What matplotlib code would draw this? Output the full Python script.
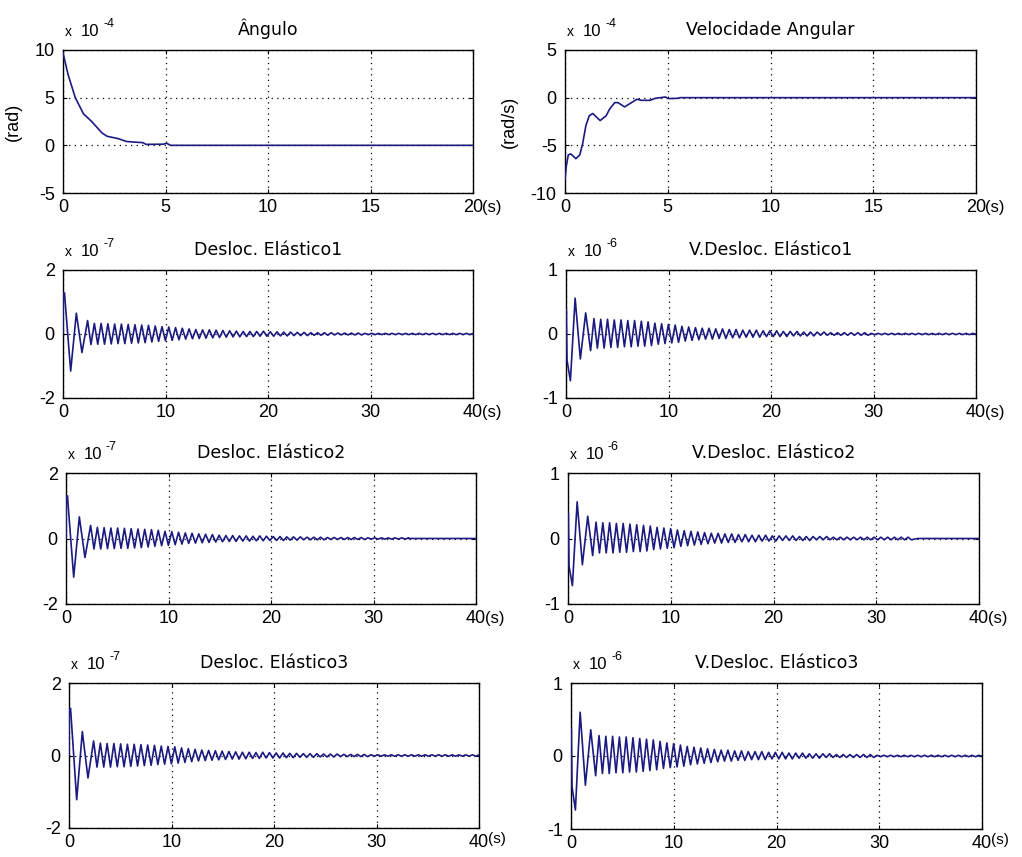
import matplotlib
matplotlib.use("Agg")
import matplotlib.pyplot as plt

# ---------------------------------------------------------------- data
# Rigid-body response (values in units of 1e-4)
angulo_t = [0.0, 0.25, 0.6, 1.0, 1.4, 1.9, 2.15, 2.7, 3.1, 3.9, 4.05, 4.9, 5.05, 5.25, 20.0]
angulo_v = [9.7, 7.4, 5.0, 3.3, 2.5, 1.3, 0.95, 0.7, 0.4, 0.28, 0.1, 0.12, 0.22, 0.0, 0.0]

vel_ang_t = [0.0, 0.07, 0.16, 0.28, 0.53, 0.72, 0.86, 1.02, 1.18, 1.35, 1.71, 2.0, 2.17,
             2.42, 2.58, 2.9, 3.16, 3.49, 3.73, 4.14, 4.39, 4.64, 4.88, 5.05, 5.46, 5.6, 20.0]
vel_ang_v = [-8.5, -7.1, -6.0, -5.9, -6.4, -6.0, -4.8, -2.9, -1.9, -1.66, -2.4, -1.9, -1.2,
             -0.52, -0.52, -0.97, -0.62, -0.17, -0.28, -0.28, -0.07, 0.0, 0.07, -0.1, -0.07, 0.0, 0.0]

# Elastic displacements (units of 1e-7): initial transient, then alternating extremes
half_period = 0.33

desloc_head_t = [0.0, 0.03, 0.15, 0.2, 0.75, 1.3, 1.85, 2.4]
desloc1_head_v = [0.0, 1.28, 1.28, 1.05, -1.16, 0.65, -0.58, 0.42]
desloc1_troughs = ([-0.33, -0.32, -0.32, -0.31, -0.30, -0.30, -0.29, -0.28, -0.27,
                    -0.25, -0.23, -0.21,
                    -0.20, -0.18, -0.16, -0.15,
                    -0.14, -0.13, -0.12, -0.11,
                    -0.10, -0.09, -0.09, -0.08, -0.08, -0.07, -0.07,
                    -0.07, -0.06, -0.06, -0.05, -0.05, -0.05, -0.04,
                    -0.04, -0.04, -0.03, -0.03, -0.03, -0.03, -0.03]
                   + [-0.02] * 16)
desloc1_peaks = ([0.33, 0.33, 0.32, 0.31, 0.31, 0.30, 0.29, 0.28, 0.27,
                  0.25, 0.23, 0.22,
                  0.20, 0.18, 0.16, 0.14,
                  0.13, 0.13, 0.12, 0.11,
                  0.10, 0.09, 0.08, 0.08, 0.08, 0.09, 0.07,
                  0.07, 0.06, 0.06, 0.05, 0.05, 0.04, 0.04,
                  0.04, 0.04, 0.03, 0.03, 0.03, 0.03, 0.02]
                 + [0.02] * 16)

desloc2_head_v = [0.0, 1.30, 1.30, 1.05, -1.18, 0.66, -0.58, 0.40]
desloc2_troughs = ([-0.32, -0.32, -0.31, -0.31, -0.30, -0.30, -0.29, -0.28, -0.26,
                    -0.24, -0.22, -0.21,
                    -0.19, -0.17, -0.15, -0.14,
                    -0.13, -0.12, -0.11, -0.10,
                    -0.09, -0.09, -0.08, -0.08, -0.07, -0.07, -0.06,
                    -0.06, -0.06, -0.05, -0.05, -0.04, -0.04, -0.04,
                    -0.04, -0.03, -0.03, -0.03, -0.03, -0.03, -0.03]
                   + [-0.02] * 6)
desloc2_peaks = ([0.34, 0.33, 0.32, 0.32, 0.31, 0.30, 0.29, 0.28, 0.27,
                  0.25, 0.22, 0.21,
                  0.19, 0.17, 0.16, 0.14,
                  0.13, 0.12, 0.10, 0.09,
                  0.09, 0.08, 0.08, 0.07, 0.08, 0.07, 0.06,
                  0.06, 0.05, 0.05, 0.05, 0.04, 0.04, 0.04,
                  0.03, 0.03, 0.03, 0.03, 0.03, 0.03, 0.02]
                 + [0.02] * 6)
desloc2_stop = 33.4

desloc3_head_v = [0.0, 1.30, 1.30, 1.10, -1.22, 0.66, -0.62, 0.40]
desloc3_troughs = ([-0.32, -0.32, -0.32, -0.31, -0.31, -0.30, -0.29, -0.28, -0.27,
                    -0.25, -0.24, -0.23,
                    -0.21, -0.19, -0.17, -0.15,
                    -0.14, -0.13, -0.12, -0.11,
                    -0.10, -0.10, -0.09, -0.08, -0.08, -0.07, -0.07,
                    -0.07, -0.06, -0.06, -0.05, -0.05, -0.05, -0.04,
                    -0.04, -0.04, -0.03, -0.03, -0.03, -0.03, -0.03]
                   + [-0.02] * 16)
desloc3_peaks = ([0.34, 0.33, 0.33, 0.32, 0.31, 0.31, 0.30, 0.29, 0.28,
                  0.26, 0.25, 0.24,
                  0.21, 0.19, 0.17, 0.15,
                  0.14, 0.13, 0.12, 0.11,
                  0.10, 0.09, 0.09, 0.08, 0.09, 0.08, 0.07,
                  0.07, 0.06, 0.06, 0.05, 0.05, 0.05, 0.04,
                  0.04, 0.04, 0.03, 0.03, 0.03, 0.03, 0.02]
                 + [0.02] * 16)

# Elastic velocities (units of 1e-6)
vdesloc_head_t = [0.0, 0.03, 0.1, 0.43, 0.89, 1.4, 1.92, 2.4]
vdesloc1_head_v = [0.0, 0.37, -0.41, -0.73, 0.56, -0.39, 0.33, -0.26]
vdesloc1_peaks = ([0.24, 0.23, 0.23, 0.22, 0.22, 0.21, 0.21, 0.20, 0.19,
                   0.17, 0.16, 0.15,
                   0.14, 0.12, 0.11, 0.10,
                   0.09, 0.09, 0.08, 0.08,
                   0.07, 0.07, 0.06, 0.06, 0.06, 0.05, 0.05,
                   0.05, 0.04, 0.04, 0.04, 0.03, 0.03, 0.03,
                   0.03, 0.02, 0.02, 0.02, 0.02, 0.02, 0.02]
                  + [0.01] * 16)
vdesloc1_troughs = ([-0.22, -0.22, -0.21, -0.21, -0.20, -0.20, -0.19, -0.19, -0.18,
                     -0.16, -0.15, -0.14,
                     -0.13, -0.11, -0.10, -0.09,
                     -0.08, -0.08, -0.07, -0.07,
                     -0.06, -0.06, -0.05, -0.05, -0.05, -0.04, -0.04,
                     -0.04, -0.04, -0.03, -0.03, -0.03, -0.03, -0.02,
                     -0.02, -0.02, -0.02, -0.02, -0.02, -0.02, -0.02]
                    + [-0.01] * 16)

vdesloc2_head_v = [0.0, 0.38, -0.42, -0.72, 0.56, -0.40, 0.34, -0.26]
vdesloc2_peaks = ([0.25, 0.24, 0.24, 0.23, 0.23, 0.22, 0.21, 0.20, 0.19,
                   0.17, 0.16, 0.15,
                   0.13, 0.12, 0.11, 0.10,
                   0.09, 0.08, 0.08, 0.07,
                   0.07, 0.06, 0.06, 0.05, 0.05, 0.05, 0.04,
                   0.04, 0.04, 0.04, 0.03, 0.03, 0.03, 0.03,
                   0.03, 0.02, 0.02, 0.02, 0.02, 0.02, 0.02]
                  + [0.02] * 6)
vdesloc2_troughs = ([-0.22, -0.22, -0.22, -0.21, -0.21, -0.20, -0.20, -0.19, -0.17,
                     -0.16, -0.15, -0.14,
                     -0.12, -0.11, -0.10, -0.09,
                     -0.08, -0.07, -0.07, -0.06,
                     -0.06, -0.05, -0.05, -0.05, -0.04, -0.04, -0.04,
                     -0.03, -0.03, -0.03, -0.03, -0.03, -0.02, -0.02,
                     -0.02, -0.02, -0.02, -0.02, -0.02, -0.02, -0.02]
                    + [-0.02] * 6)
vdesloc2_stop = 34.0

vdesloc3_head_v = [0.0, 0.37, -0.42, -0.74, 0.60, -0.40, 0.36, -0.27]
vdesloc3_peaks = ([0.28, 0.27, 0.27, 0.26, 0.26, 0.25, 0.24, 0.23, 0.22,
                   0.20, 0.18, 0.17,
                   0.15, 0.13, 0.12, 0.11,
                   0.10, 0.09, 0.08, 0.08,
                   0.07, 0.07, 0.06, 0.06, 0.06, 0.05, 0.05,
                   0.05, 0.04, 0.04, 0.04, 0.03, 0.03, 0.03,
                   0.03, 0.02, 0.02, 0.02, 0.02, 0.02, 0.02]
                  + [0.01] * 16)
vdesloc3_troughs = ([-0.24, -0.24, -0.23, -0.23, -0.22, -0.22, -0.21, -0.20, -0.19,
                     -0.17, -0.16, -0.15,
                     -0.14, -0.12, -0.11, -0.10,
                     -0.09, -0.08, -0.07, -0.07,
                     -0.06, -0.06, -0.05, -0.05, -0.05, -0.04, -0.04,
                     -0.04, -0.04, -0.03, -0.03, -0.03, -0.03, -0.02,
                     -0.02, -0.02, -0.02, -0.02, -0.02, -0.02, -0.02]
                    + [-0.01] * 16)

titles = ["\u00c2ngulo", "Velocidade Angular",
          "Desloc. El\u00e1stico1", "V.Desloc. El\u00e1stico1",
          "Desloc. El\u00e1stico2", "V.Desloc. El\u00e1stico2",
          "Desloc. El\u00e1stico3", "V.Desloc. El\u00e1stico3"]
exponents = ["-4", "-4", "-7", "-6", "-7", "-6", "-7", "-6"]
ylabels = ["(rad)", "(rad/s)", None, None, None, None, None, None]
yticks = [[-5, 0, 5, 10], [-10, -5, 0, 5],
          [-2, 0, 2], [-1, 0, 1], [-2, 0, 2], [-1, 0, 1], [-2, 0, 2], [-1, 0, 1]]
xticks_short = [0, 5, 10, 15, 20]
xticks_long = [0, 10, 20, 30, 40]


def build_series(head_t, head_v, first, second, end_t, stop_t=None):
    """Join the transient with alternating extremes spaced by half a period."""
    t = list(head_t)
    v = list(head_v)
    cur = head_t[-1]
    for a, b in zip(first, second):
        cur += half_period
        t.append(cur)
        v.append(a)
        cur += half_period
        t.append(cur)
        v.append(b)
    if stop_t is not None:
        t.append(stop_t)
        v.append(0.0)
    t.append(end_t)
    v.append(0.0)
    return t, v


series = [
    (angulo_t, angulo_v),
    (vel_ang_t, vel_ang_v),
    build_series(desloc_head_t, desloc1_head_v, desloc1_troughs, desloc1_peaks, 40.0),
    build_series(vdesloc_head_t, vdesloc1_head_v, vdesloc1_peaks, vdesloc1_troughs, 40.0),
    build_series(desloc_head_t, desloc2_head_v, desloc2_troughs, desloc2_peaks, 40.0, desloc2_stop),
    build_series(vdesloc_head_t, vdesloc2_head_v, vdesloc2_peaks, vdesloc2_troughs, 40.0, vdesloc2_stop),
    build_series(desloc_head_t, desloc3_head_v, desloc3_troughs, desloc3_peaks, 40.0),
    build_series(vdesloc_head_t, vdesloc3_head_v, vdesloc3_peaks, vdesloc3_troughs, 40.0),
]

# ---------------------------------------------------------------- layout
W, H = 1022, 857
# panel boxes in pixels: left, top, right, bottom
boxes = [(63, 50, 473, 193), (565, 50, 976, 193),
         (63, 270, 473, 398), (566, 270, 976, 398),
         (66, 473, 476, 604), (568, 473, 979, 604),
         (69, 683, 479, 828), (571, 683, 982, 829)]

LINE = "#1a1a80"
TICK_FONT = "Liberation Sans"
TITLE_FONT = "DejaVu Sans"

fig = plt.figure(figsize=(W / 100, H / 100), dpi=100)
fig.patch.set_facecolor("white")

for i, (l, t, r, b) in enumerate(boxes):
    ax = fig.add_axes([l / W, 1 - b / H, (r - l) / W, (b - t) / H])
    x, y = series[i]
    ax.plot(x, y, color=LINE, linewidth=1.2, zorder=3)

    xt = xticks_short if i < 2 else xticks_long
    ax.set_xlim(xt[0], xt[-1])
    ax.set_ylim(yticks[i][0], yticks[i][-1])
    ax.set_xticks(xt)
    ax.set_yticks(yticks[i])
    ax.set_xticklabels([str(v) for v in xt], family=TICK_FONT, fontsize=13)
    ax.set_yticklabels([str(v) for v in yticks[i]], family=TICK_FONT, fontsize=13)
    ax.tick_params(direction="in", length=3, width=0.8, colors="black",
                   top=True, right=True)
    ax.tick_params(axis="x", pad=4)
    ax.tick_params(axis="y", pad=6)
    ax.grid(True, color="black", linestyle=(0, (1, 3.5)), linewidth=0.9, zorder=1)
    for sp in ax.spines.values():
        sp.set_linewidth(1.0)
        sp.set_color("black")

    ax.set_title(titles[i], family=TITLE_FONT, fontsize=12.5, pad=11)

    # MATLAB-style exponent label above the y axis
    ax.annotate("x", xy=(0, 1), xycoords="axes fraction", xytext=(2, 14),
                textcoords="offset pixels", ha="left", va="baseline",
                family=TICK_FONT, fontsize=10)
    ax.annotate("10", xy=(0, 1), xycoords="axes fraction", xytext=(18, 14),
                textcoords="offset pixels", ha="left", va="baseline",
                family=TICK_FONT, fontsize=12)
    ax.annotate(exponents[i], xy=(0, 1), xycoords="axes fraction", xytext=(40, 23),
                textcoords="offset pixels", ha="left", va="baseline",
                family=TICK_FONT, fontsize=9)

    # time unit after the last x tick
    dy = -19 if i < 6 else -15
    ax.annotate("(s)", xy=(1, 0), xycoords="axes fraction", xytext=(9, dy),
                textcoords="offset pixels", ha="left", va="baseline",
                family=TICK_FONT, fontsize=12 if i < 6 else 11)

    if ylabels[i]:
        ax.set_ylabel(ylabels[i], family=TICK_FONT, fontsize=13, labelpad=9)

fig.savefig("out.png", dpi=100, facecolor="white")
